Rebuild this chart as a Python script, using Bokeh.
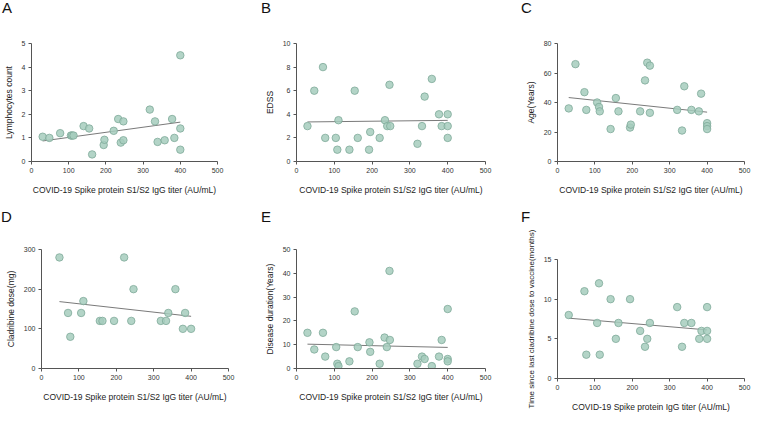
import numpy as np
from bokeh.plotting import figure
from bokeh.layouts import column, row
from bokeh.models import Range1d, FixedTicker, Div
from bokeh.embed import file_html
from bokeh.resources import INLINE

FONT = "Liberation Sans"
X_LABEL = "COVID-19 Spike protein S1/S2 IgG titer (AU/mL)"
X_LABEL_F = "COVID-19 Spike protein IgG titer (AU/mL)"
X_TICKS = [0, 100, 200, 300, 400, 500]

# Panel A: Lymphocytes count
a_x = [30, 48, 77, 106, 109, 113, 140, 155, 163, 194, 196, 221, 233, 240, 247, 247,
       318, 332, 339, 358, 378, 384, 400, 400, 400]
a_y = [1.05, 1.0, 1.2, 1.1, 1.1, 1.1, 1.5, 1.4, 0.3, 0.7, 0.92, 1.3, 1.8, 0.8, 1.7, 0.9,
       2.2, 1.7, 0.83, 0.9, 1.8, 1.0, 4.5, 1.4, 0.5]
a_yticks = [0, 1, 2, 3, 4, 5]

# Panel B: EDSS
b_x = [29, 47, 70, 76, 104, 108, 111, 140, 154, 162, 192, 195, 220, 234, 240, 246, 248,
       320, 332, 339, 358, 377, 384, 400, 400, 400]
b_y = [3, 6, 8, 2, 2, 1, 3.5, 1, 6, 2, 1, 2.5, 2, 3.5, 3, 6.5, 3,
       1.5, 3, 5.5, 7, 4, 3, 4, 3, 2]
b_yticks = [0, 2, 4, 6, 8, 10]

# Panel C: Age
c_x = [30, 48, 72, 77, 106, 111, 113, 142, 156, 163, 194, 196, 221, 234, 240, 247, 247,
       320, 333, 339, 358, 378, 384, 400, 400, 400]
c_y = [36, 66, 47, 35, 40, 37, 34, 22, 43, 34, 23, 25, 34, 55, 67, 65, 33,
       35, 21, 51, 35, 34, 46, 26, 24, 22]
c_yticks = [0, 20, 40, 60, 80]

# Panel D: Cladribine dose
d_x = [48, 71, 77, 106, 112, 156, 163, 194, 221, 240, 246, 319, 333, 339, 358, 378, 384, 400]
d_y = [280, 140, 80, 140, 170, 120, 120, 120, 280, 120, 200, 120, 120, 140, 200, 100, 140, 100]
d_yticks = [0, 100, 200, 300]

# Panel E: Disease duration
e_x = [29, 47, 70, 76, 105, 108, 111, 140, 154, 162, 193, 195, 220, 233, 239, 246, 247,
       320, 332, 339, 358, 377, 384, 400, 400, 400]
e_y = [15, 8, 15, 5, 9, 2, 1, 3, 24, 9, 11, 7, 2, 13, 9, 41, 12,
       2, 5, 4, 1, 5, 12, 25, 4, 3]
e_yticks = [0, 10, 20, 30, 40, 50]

# Panel F: Time since last cladribine dose
f_x = [30, 72, 77, 106, 111, 113, 142, 156, 163, 194, 221, 234, 240, 247,
       320, 333, 339, 358, 379, 385, 400, 400, 400]
f_y = [8, 11, 3, 7, 12, 3, 10, 5, 7, 10, 6, 4, 5, 7,
       9, 4, 7, 7, 5, 6, 9, 6, 5]
f_yticks = [0, 5, 10, 15]


def letter_div(letter, width, height, left, top):
    html = ('<div style="padding:%dpx 0 0 %dpx;font-family:\'Liberation Sans\';'
            'font-size:15px;line-height:15px;color:#111111;">%s</div>') % (top, left, letter)
    return Div(text=html, width=width, height=height, margin=0)


def panel(xs, ys, yticks, ylabel, xlabel, width, height, bl, br, bt, bb,
          ylabel_size="8.5px"):
    p = figure(width=width, height=height, x_range=Range1d(0, 500),
               y_range=Range1d(yticks[0], yticks[-1]),
               output_backend="svg", toolbar_location=None,
               min_border=0, min_border_left=bl, min_border_right=br,
               min_border_top=bt, min_border_bottom=bb)
    p.outline_line_color = None
    p.xgrid.visible = False
    p.ygrid.visible = False
    p.background_fill_color = "white"
    p.border_fill_color = "white"
    p.xaxis.ticker = FixedTicker(ticks=X_TICKS)
    p.yaxis.ticker = FixedTicker(ticks=yticks)
    p.xaxis.axis_label = xlabel
    p.yaxis.axis_label = ylabel
    for ax in (p.xaxis[0], p.yaxis[0]):
        ax.axis_line_color = "#555555"
        ax.major_tick_line_color = "#555555"
        ax.minor_tick_line_color = None
        ax.major_tick_out = 3
        ax.major_tick_in = 0
        ax.major_label_text_font = FONT
        ax.major_label_text_font_size = "7px"
        ax.major_label_text_color = "#333333"
        ax.major_label_standoff = 3
        ax.axis_label_text_font = FONT
        ax.axis_label_text_font_size = "8.5px"
        ax.axis_label_text_font_style = "normal"
        ax.axis_label_text_color = "#222222"
    p.yaxis.axis_label_text_font_size = ylabel_size
    p.xaxis.axis_label_standoff = 9
    p.yaxis.axis_label_standoff = 5

    xa = np.array(xs, dtype=float)
    ya = np.array(ys, dtype=float)
    k, b0 = np.polyfit(xa, ya, 1)
    lx_line = np.array([xa.min(), xa.max()])
    p.line(lx_line, k * lx_line + b0, line_color="#7a7a7a", line_width=1)
    p.scatter(xs, ys, size=7.5, fill_color="#a6ccbd", fill_alpha=0.85,
              line_color="#7fa999", line_width=0.8)
    return p


pa = panel(a_x, a_y, a_yticks, "Lymphocytes count", X_LABEL, 250, 177, 31, 33, 23, 35)
pb = panel(b_x, b_y, b_yticks, "EDSS", X_LABEL, 258, 177, 46, 23, 23, 35)
pc = panel(c_x, c_y, c_yticks, "Age(Years)", X_LABEL, 246, 177, 49, 10, 23, 35)
pd = panel(d_x, d_y, d_yticks, "Cladribine dose(mg)", X_LABEL, 250, 190, 41, 22, 22, 49)
pe = panel(e_x, e_y, e_yticks, "Disease duration(Years)", X_LABEL, 258, 190, 46, 23, 22, 49)
pf = panel(f_x, f_y, f_yticks, "Time since last cladribine dose to vaccine(months)", X_LABEL_F,
           246, 190, 49, 10, 32, 39, ylabel_size="8px")

top = row(column(letter_div("A", 250, 20, 2, 0), pa),
          column(letter_div("B", 258, 20, 11, 0), pb),
          column(letter_div("C", 246, 20, 13, 0), pc))
bottom = row(column(letter_div("D", 250, 30, 1, 12), pd),
             column(letter_div("E", 258, 30, 11, 12), pe),
             column(letter_div("F", 246, 30, 13, 12), pf))
layout = column(top, bottom)
open("out.html", "w").write(file_html(layout, INLINE))
